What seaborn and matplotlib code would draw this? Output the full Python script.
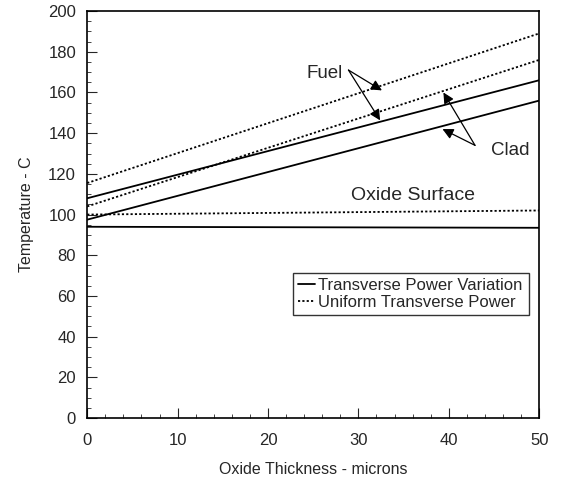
import matplotlib
matplotlib.use("Agg")
import matplotlib.pyplot as plt
import seaborn as sns
import pandas as pd

# Oxide thickness (microns) at the two ends of each linear profile
thickness = [0, 50]

# Temperatures (C) for transverse power variation (solid)
fuel_variation = [108, 166]
clad_variation = [97.5, 156]
oxide_variation = [94, 93.5]

# Temperatures (C) for uniform transverse power (dotted)
fuel_uniform = [115.5, 189]
clad_uniform = [104, 176]
oxide_uniform = [100, 102]

series = {
    ("Fuel", "Transverse Power Variation"): fuel_variation,
    ("Clad", "Transverse Power Variation"): clad_variation,
    ("Oxide Surface", "Transverse Power Variation"): oxide_variation,
    ("Fuel", "Uniform Transverse Power"): fuel_uniform,
    ("Clad", "Uniform Transverse Power"): clad_uniform,
    ("Oxide Surface", "Uniform Transverse Power"): oxide_uniform,
}
rows = []
for (region, case), temps in series.items():
    for x, t in zip(thickness, temps):
        rows.append({"thickness": x, "temp": t, "region": region, "case": case})
df = pd.DataFrame(rows)

sns.set_style("ticks")
plt.rcParams["font.family"] = ["Liberation Sans", "DejaVu Sans"]

fig = plt.figure(figsize=(5.7, 4.8), dpi=100)
ax = fig.add_axes([0.153, 0.129, 0.793, 0.848])

styles = {
    "Transverse Power Variation": dict(linestyle="-", linewidth=1.3),
    "Uniform Transverse Power": dict(linestyle=(0, (1.2, 1.2)), linewidth=1.3),
}
for (region, case), sub in df.groupby(["region", "case"]):
    sns.lineplot(data=sub, x="thickness", y="temp", ax=ax, color="black",
                 legend=False, **styles[case])

ax.set_xlim(0, 50)
ax.set_ylim(0, 200)
ax.set_xticks(range(0, 51, 10))
ax.set_xticks(range(0, 51, 2), minor=True)
ax.set_yticks(range(0, 201, 20))
ax.set_yticks(range(0, 201, 5), minor=True)
ax.tick_params(axis="both", which="major", direction="in", length=7,
               width=0.8, labelsize=12, top=False, right=False)
ax.tick_params(axis="y", which="major", pad=8)
ax.tick_params(axis="x", which="major", pad=11)
ax.tick_params(axis="both", which="minor", direction="in", length=3,
               width=0.6, top=False, right=False)
for s in ax.spines.values():
    s.set_visible(True)
    s.set_linewidth(1.2)
    s.set_color("black")

ax.set_xlabel("Oxide Thickness - microns", fontsize=11.5, labelpad=10)
ax.set_ylabel("Temperature - C", fontsize=11.5, labelpad=10)

# Region labels with pointer arrows
arrow = dict(arrowstyle="-|>", color="black", lw=0.9, mutation_scale=16,
             shrinkA=0, shrinkB=0)
ax.text(26.3, 169.5, "Fuel", fontsize=13.5, ha="center", va="center")
ax.annotate("", xy=(32.6, 161), xytext=(28.9, 171), arrowprops=arrow)
ax.annotate("", xy=(32.4, 146.3), xytext=(28.9, 171), arrowprops=arrow)
ax.text(46.8, 131.5, "Clad", fontsize=13.5, ha="center", va="center")
ax.annotate("", xy=(39.4, 160), xytext=(42.9, 134), arrowprops=arrow)
ax.annotate("", xy=(39.3, 142), xytext=(42.9, 134), arrowprops=arrow)
ax.text(36, 109.4, "Oxide Surface", fontsize=14, ha="center", va="center")

handles = [
    plt.Line2D([], [], color="black", **styles["Transverse Power Variation"]),
    plt.Line2D([], [], color="black", **styles["Uniform Transverse Power"]),
]
leg = ax.legend(handles, ["Transverse Power Variation", "Uniform Transverse Power"],
                loc="lower left", bbox_to_anchor=(0.456, 0.253, 0.522, 0.115),
                mode="expand", fontsize=12, frameon=True, fancybox=False,
                handlelength=1.0, handletextpad=0.2, borderpad=0.3,
                labelspacing=0.15, borderaxespad=0)
leg.get_frame().set_edgecolor("black")
leg.get_frame().set_linewidth(1.0)

fig.savefig("out.png", dpi=100)
